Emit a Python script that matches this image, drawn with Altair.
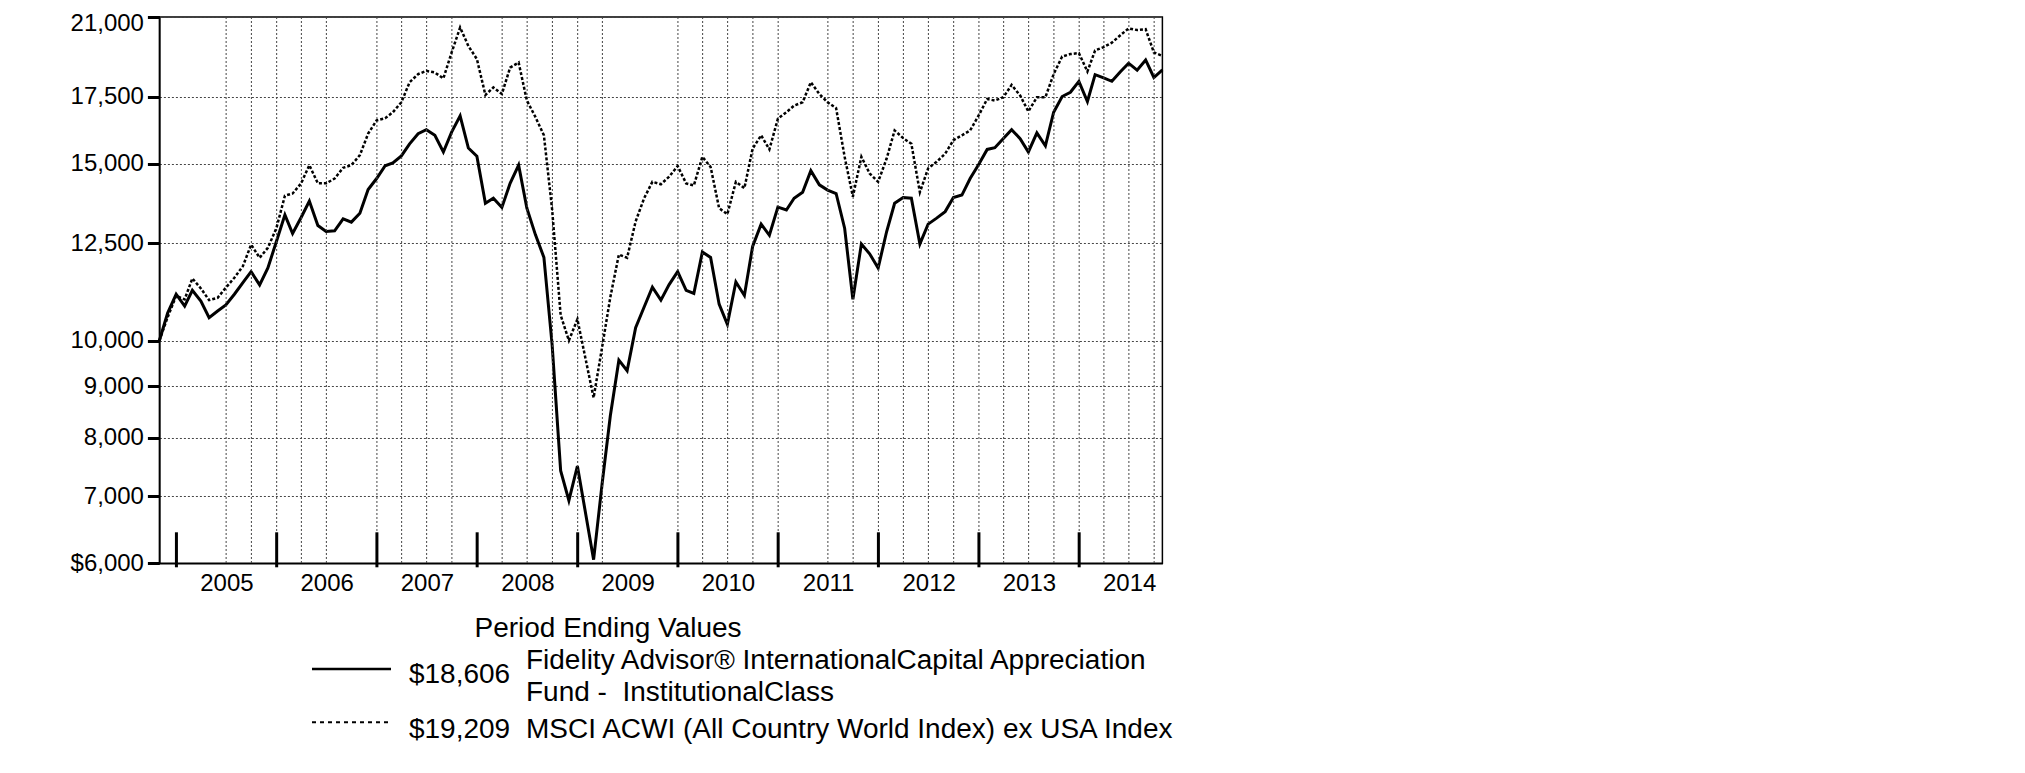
import altair as alt
import pandas as pd

# ---------------- data ----------------
start_month = "2004-11-01"   # month-ends from Oct 31 2004 to Oct 31 2014
n_months = 121

fund_values = [
    10000, 10650, 11120, 10820, 11220, 10950, 10540, 10700, 10850, 11120,
    11420, 11710, 11360, 11810, 12550, 13340, 12780, 13260, 13770, 13020,
    12840, 12860, 13220, 13120, 13390, 14140, 14500, 14930, 15030, 15270,
    15700, 16070, 16220, 16010, 15410, 16130, 16740, 15550, 15260, 13700,
    13860, 13570, 14340, 14950, 13545, 12750, 12100, 9900, 7420, 6930,
    7500, 6700, 6050, 7200, 8420, 9560, 9330, 10300, 10800, 11300,
    10970, 11370, 11710, 11220, 11140, 12250, 12100, 10870, 10380, 11440,
    11090, 12410, 13060, 12730, 13580, 13490, 13860, 14050, 14760, 14290,
    14120, 14010, 12940, 10990, 12480, 12200, 11810, 12840, 13700, 13880,
    13860, 12480, 13060, 13240, 13440, 13880, 13960, 14500, 14970, 15500,
    15560, 15890, 16220, 15890, 15410, 16100, 15630, 16880, 17500, 17670,
    18120, 17300, 18400, 18260, 18120, 18520, 18890, 18590, 19030, 18280,
    18606,
]

index_values = [
    10000, 10550, 11080, 10990, 11530, 11270, 10970, 11030, 11290, 11550,
    11860, 12460, 12090, 12370, 12940, 13940, 14010, 14340, 14950, 14340,
    14340, 14500, 14860, 14950, 15300, 16070, 16570, 16650, 16880, 17270,
    18080, 18420, 18560, 18490, 18240, 19360, 20500, 19650, 19070, 17560,
    17870, 17600, 18700, 18920, 17340, 16700, 16010, 13500, 10600, 10000,
    10500, 9550, 8770, 9850, 11050, 12180, 12090, 13140, 13860, 14390,
    14310, 14560, 14920, 14340, 14270, 15240, 14890, 13545, 13360, 14390,
    14180, 15530, 16010, 15500, 16630, 16880, 17140, 17270, 18080, 17600,
    17270, 17040, 15240, 13910, 15240, 14670, 14390, 15180, 16190, 15910,
    15700, 14050, 14840, 15065, 15350, 15830, 16010, 16190, 16755, 17400,
    17340, 17470, 17970, 17540, 16910, 17470, 17470, 18420, 19180, 19290,
    19330, 18530, 19450, 19600, 19800, 20140, 20460, 20380, 20420, 19360,
    19209,
]

y_tick_values = [6000, 7000, 8000, 9000, 10000, 12500, 15000, 17500, 21000]
year_labels = [2005, 2006, 2007, 2008, 2009, 2010, 2011, 2012, 2013, 2014]
year_tick_dates = ["2005-01-01", "2006-01-01", "2007-01-01", "2008-01-01", "2009-01-01",
                   "2010-01-01", "2011-01-01", "2012-01-01", "2013-01-01", "2014-01-01"]
grid_dates = [
    "2005-07-01", "2005-10-01", "2006-01-01", "2006-04-01", "2006-07-01",
    "2007-01-01", "2007-04-01", "2007-07-01", "2007-10-01",
    "2008-04-01", "2008-07-01", "2008-10-01", "2009-01-01", "2009-04-01",
    "2010-01-01", "2010-04-01", "2010-07-01", "2010-10-01", "2011-01-01",
    "2011-07-01", "2011-10-01", "2012-01-01", "2012-04-01", "2012-07-01",
    "2012-10-01", "2013-01-01", "2013-04-01", "2013-07-01", "2013-10-01",
    "2014-01-01", "2014-04-01", "2014-07-01", "2014-10-01",
]

legend_title = "Period Ending Values"
fund_label_lines = ["Fidelity Advisor\u00ae InternationalCapital Appreciation",
                    "Fund -\u00a0 InstitutionalClass"]
index_label = "MSCI ACWI (All Country World Index) ex USA Index"

# ---------------- tables ----------------
months = pd.date_range(start_month, periods=n_months, freq="MS") - pd.Timedelta(days=1)
fund_df = pd.DataFrame({"date": months, "value": fund_values})
index_df = pd.DataFrame({"date": months, "value": index_values})
grid_df = pd.DataFrame({"date": pd.to_datetime(grid_dates)})
yticks_df = pd.DataFrame({"date": pd.to_datetime(year_tick_dates)})

FONT = "Liberation Sans"
TOP = 9.0           # padding above the plot area
DY = 8 + TOP        # page y of the plot's top edge
W, H = 1003, 563.3 - DY

x_scale = alt.Scale(domain=[alt.DateTime(year=2004, month=10, date=31),
                            alt.DateTime(year=2014, month=10, date=31)])
y_scale = alt.Scale(type="log", domain=[6000, 21000], nice=False)

x_axis = alt.Axis(
    values=[alt.DateTime(year=y, month=7, date=2) for y in year_labels],
    format="%Y", labelFontSize=24, labelFont=FONT, labelColor="black",
    tickSize=0, labelPadding=8, labelFlush=False, labelAngle=0,
    domainColor="black", domainWidth=1.5, grid=False, title=None,
)
y_axis = alt.Axis(
    values=y_tick_values,
    labelExpr="datum.value == 6000 ? '$6,000' : format(datum.value, ',')",
    labelOffset={"condition": {"test": "datum.value == 21000", "value": 6}, "value": 0},
    tickSize=12, tickWidth=3, tickColor="black",
    domainColor="black", domainWidth=1.5,
    grid=True, gridDash=[2, 2], gridColor="#444444", gridWidth=1,
    labelFontSize=24, labelFont=FONT, labelColor="black", labelPadding=4,
    title=None,
)

X = alt.X("date:T", scale=x_scale, axis=x_axis)
Y = alt.Y("value:Q", scale=y_scale, axis=y_axis)

fund_line = alt.Chart(fund_df).mark_line(color="black", strokeWidth=3).encode(x=X, y=Y)
index_line = alt.Chart(index_df).mark_line(
    color="black", strokeWidth=2.5, strokeDash=[3, 2]
).encode(x=X, y=Y)
vgrid = alt.Chart(grid_df).mark_rule(
    color="#444444", strokeWidth=1, strokeDash=[2, 2]
).encode(x=X)
yearticks = alt.Chart(yticks_df).mark_rule(color="black", strokeWidth=3).encode(
    x=X, y=alt.value(H - 31), y2=alt.value(H + 4),
)

# ---------------- legend (below the plot) ----------------
def legend_text(txt, x, y, align="left"):
    return alt.Chart(pd.DataFrame({"t": [txt]})).mark_text(
        align=align, baseline="middle", font=FONT, fontSize=28, color="black"
    ).encode(x=alt.value(x), y=alt.value(y - DY), text="t:N")

fund_end = "${:,}".format(fund_values[-1])
index_end = "${:,}".format(index_values[-1])

# legend positions given as page y (converted to plot-relative inside)
leg_title = legend_text(legend_title, 448.6, 629.0, align="center")
leg_fund_line = alt.Chart(pd.DataFrame({"t": [0]})).mark_rule(color="black", strokeWidth=2.5).encode(
    x=alt.value(152.6), x2=alt.value(231.6), y=alt.value(669.0 - DY)
)
leg_fund_val = legend_text(fund_end, 249.6, 675.0)
leg_fund_l1 = legend_text(fund_label_lines[0], 366.6, 661.5)
leg_fund_l2 = legend_text(fund_label_lines[1], 366.6, 693.0)
leg_index_line = alt.Chart(pd.DataFrame({"t": [0]})).mark_rule(
    color="black", strokeWidth=2, strokeDash=[4, 4]
).encode(x=alt.value(152.6), x2=alt.value(231.6), y=alt.value(722.3 - DY))
leg_index_val = legend_text(index_end, 249.6, 730.0)
leg_index_lab = legend_text(index_label, 366.6, 730.0)

chart = alt.layer(
    fund_line, vgrid, yearticks, index_line,
    leg_title, leg_fund_line, leg_fund_val, leg_fund_l1, leg_fund_l2,
    leg_index_line, leg_index_val, leg_index_lab,
).properties(
    width=W, height=H,
    padding={"left": 151.4, "top": TOP, "right": 20, "bottom": 200},
    autosize=alt.AutoSizeParams(type="none"),
    background="white",
).configure_view(
    stroke="black", strokeWidth=1.5
)

chart.save("out.html", embed_options={"renderer": "svg", "actions": False})
